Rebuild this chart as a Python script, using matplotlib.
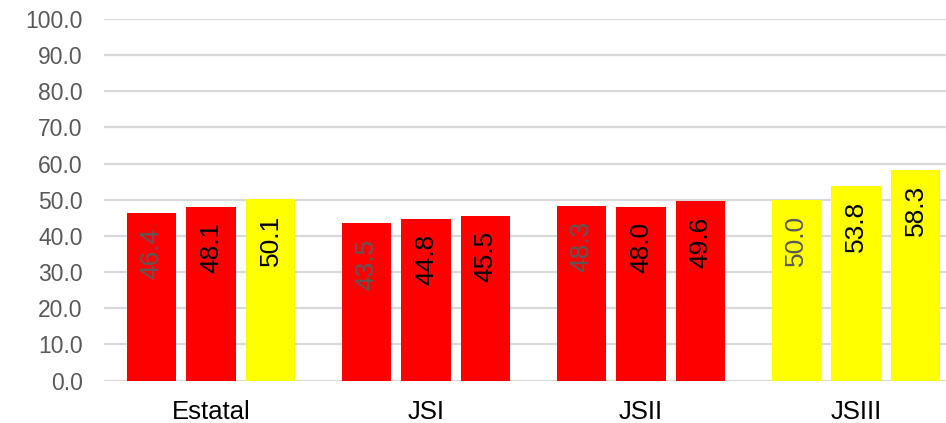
import matplotlib
matplotlib.use("Agg")
import matplotlib.pyplot as plt
import numpy as np

categories = ["Estatal", "JSI", "JSII", "JSIII"]
series1 = [46.4, 43.5, 48.3, 50.0]
series2 = [48.1, 44.8, 48.0, 53.8]
series3 = [50.1, 45.5, 49.6, 58.3]
yticks = [0, 10, 20, 30, 40, 50, 60, 70, 80, 90, 100]

RED = "#FF0000"
YEL = "#FFFF00"

def color_for(v):
    return YEL if v >= 50 else RED

plt.rcParams['font.family'] = ['Liberation Sans', 'DejaVu Sans']

fig = plt.figure(figsize=(9.46, 4.23), dpi=100)
W, H = 946, 423
left_px, right_px = 103.5, 963.5
top_px, bot_px = 19, 380.5
ax = fig.add_axes([left_px / W, (H - bot_px) / H, (right_px - left_px) / W, (bot_px - top_px) / H])

x = np.arange(len(categories))
width = 0.228
offset = 0.277
series = [series1, series2, series3]
label_colors = ["#595959", "#000000", "#000000"]
for i, s in enumerate(series):
    xs = x + (i - 1) * offset
    cols = [color_for(v) for v in s]
    bars = ax.bar(xs, s, width=width, color=cols, zorder=3)
    for xx, v in zip(xs, s):
        ax.annotate(f"{v:.1f}", xy=(xx, v), xytext=(0, -11), textcoords="offset points",
                    ha="center", va="top", rotation=90, fontsize=19,
                    color=label_colors[i], zorder=4)

ax.set_xlim(-0.5, 3.5)
ax.set_ylim(0, 100)
ax.set_yticks(yticks)
ax.set_yticklabels([f"{t:.1f}" for t in yticks], fontsize=16.5, color="#595959")
ax.set_xticks(x)
ax.set_xticklabels(categories, fontsize=18.5, color="#000000")
ax.tick_params(axis="y", length=0, pad=15)
ax.tick_params(axis="x", length=0, pad=14)
ax.grid(axis="y", color="#D9D9D9", linewidth=1.6, zorder=0)
ax.set_axisbelow(True)
for sp in ax.spines.values():
    sp.set_visible(False)

fig.savefig("out.png", dpi=100)
